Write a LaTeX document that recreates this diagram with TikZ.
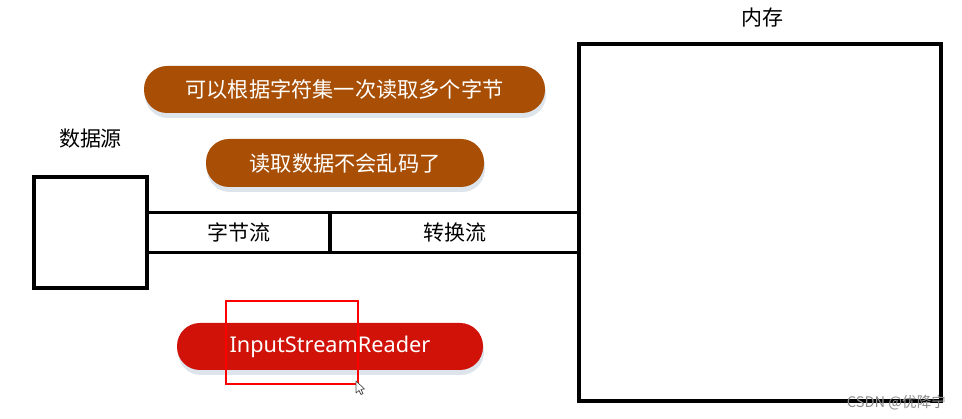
\documentclass[tikz,border=0pt]{standalone}
\usepackage{fontspec}
\setmainfont{Noto Sans}
\newfontfamily\cjk{Noto Sans CJK SC}
\usetikzlibrary{positioning}
\usetikzlibrary{shadows}
\definecolor{pillbrown}{HTML}{A84F05}
\definecolor{pillred}{HTML}{D01208}
\definecolor{pillshade}{HTML}{DDE4EC}

\begin{document}
\begin{tikzpicture}[x=1pt,y=-1pt,inner sep=0pt,outer sep=0pt,line width=3.2pt,
sysblock/.style={draw,rectangle,minimum height=40pt},
title/.style={font=\cjk\fontsize{21}{21}\selectfont},
pill/.style={rectangle,rounded corners=23pt,minimum height=47pt,text=white,
  font=\cjk\fontsize{21.2}{21.2}\selectfont,
  drop shadow={shadow xshift=1pt,shadow yshift=-5pt,fill=pillshade,opacity=1}}]
\useasboundingbox (0,0) rectangle (962,419);

\node[draw,minimum width=113pt,minimum height=111pt] (source) at (90.5,232.5) {};
\node[draw,minimum width=362pt,minimum height=357pt] (memory) at (760,222.5) {};
\node[sysblock,minimum width=183pt,right=0pt of source] (bytes) {};
\node[sysblock,minimum width=249pt,right=0pt of bytes] (convert) {};
\node[title] at (bytes) {字节流};
\node[title] at (convert) {转换流};

\node[title,above=29pt of source.north] (sourcelabel) {数据源};
\node[title] (memorylabel) at (762,18) {内存};

\node[pill,fill=pillbrown,minimum width=401pt] (hint1) at (344.5,89.5) {可以根据字符集一次读取多个字节};
\node[pill,fill=pillbrown,minimum width=278pt,minimum height=48pt] (hint2) at (345,163) {读取数据不会乱码了};
\node[pill,fill=pillred,minimum width=306pt,font=\fontsize{21.7}{21.7}\selectfont] (reader) at (330,346.5) {InputStreamReader};

\node[draw=red,line width=2.8pt,minimum width=132pt,minimum height=83pt] (mark) at (292,342.5) {};

% mouse pointer
\draw[line width=.7pt,fill=white,draw=black!70,line join=round] (356,381) -- (356,393) -- (359,390.5) -- (361,394.5) -- (363,393.5) -- (361,389.5) -- (364.5,389) -- cycle;

\node[anchor=east,text=black!45,font=\cjk\fontsize{14.6}{14.6}\selectfont] (mark2) at (946,403) {CSDN @优降宁};
\end{tikzpicture}
\end{document}
